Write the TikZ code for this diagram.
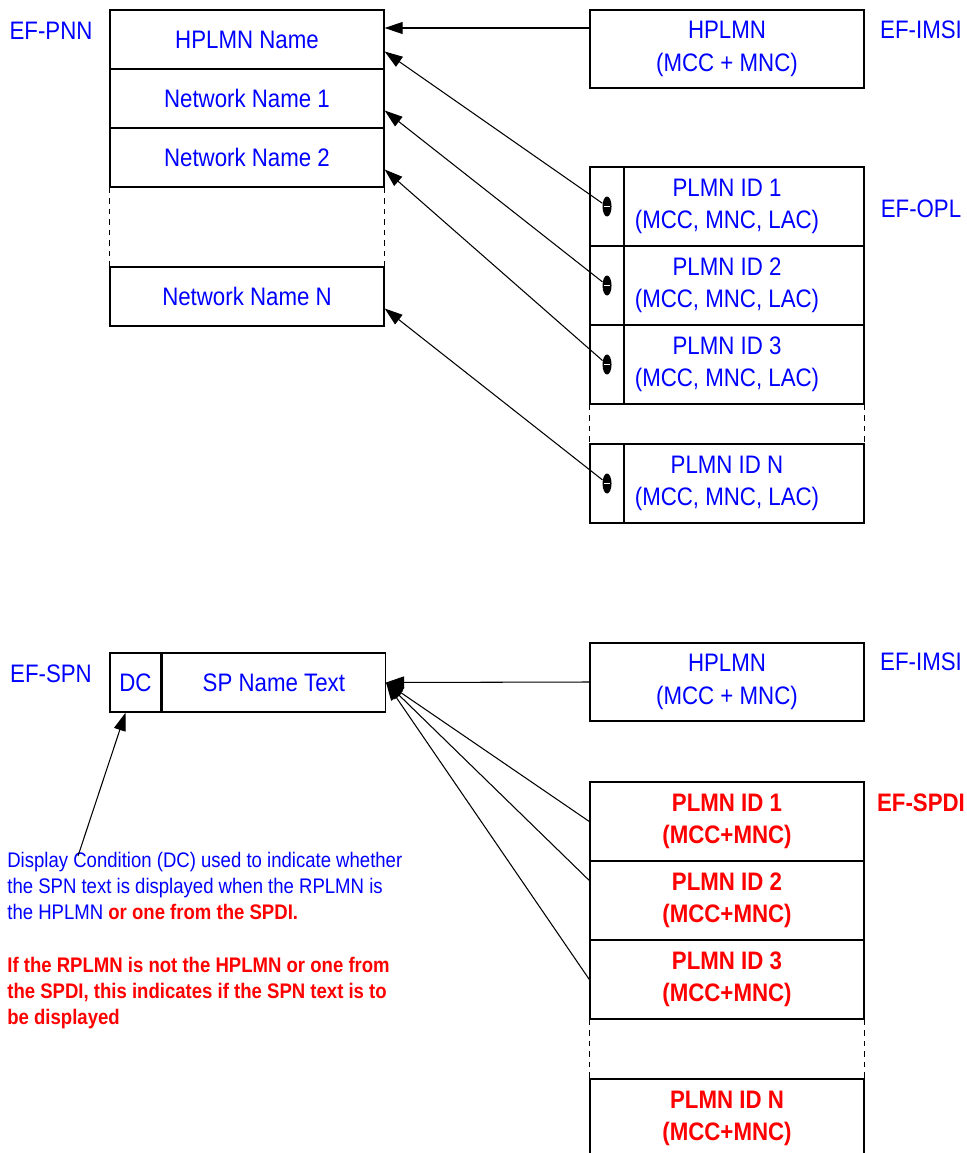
\documentclass[tikz,border=0pt]{standalone}
\usepackage{fontspec}
\setmainfont{Liberation Sans}[FakeStretch=0.88]
\usetikzlibrary{arrows.meta,shapes.geometric}
\definecolor{efblue}{RGB}{0,0,255}
\definecolor{efred}{RGB}{255,0,0}
\tikzset{
	cell/.style={draw,line width=0.8pt,minimum width=5.48cm,inner sep=0pt,align=center,
		text=efblue,font=\fontsize{14.4}{18.5}\selectfont},
	redcell/.style={cell,text=efred,font=\fontsize{14.4}{18}\selectfont\bfseries},
	eflabel/.style={text=efblue,font=\fontsize{14.4}{18}\selectfont},
	dot/.style={ellipse,fill=black,minimum width=0.18cm,minimum height=0.4cm,inner sep=0pt,
		path picture={\draw[white,line width=0.6pt] ([xshift=-1.5pt]path picture bounding box.center)--([xshift=1.5pt]path picture bounding box.center);}},
	arr/.style={-{Triangle[length=0.36cm,width=0.24cm]},line width=0.6pt}
}
\begin{document}
\begin{tikzpicture}[x=0.02cm,y=-0.02cm]
		\clip (0,0) rectangle (967,1153);
		% top: EF-PNN, EF-IMSI, EF-OPL
		\foreach \n/\y/\t in {pnn0/39.5/HPLMN Name,pnn1/98.5/Network Name 1,pnn2/157.5/Network Name 2,pnnN/296.5/Network Name N}
		\node[cell,minimum height=1.18cm] (\n) at (247,\y) {\t};
		\draw[dashed,line width=0.6pt] (pnn2.south west)--(pnnN.north west) (pnn2.south east)--(pnnN.north east);
		\node[cell,minimum height=1.56cm] (imsi) at (727,49) {HPLMN\\(MCC + MNC)};
		\foreach \i/\y in {1/206.5,2/285.5,3/364.5,N/483.5}{
			\node[cell,minimum height=1.58cm] (opl\i) at (727,\y) {PLMN ID \i\\(MCC, MNC, LAC)};
			\node[cell,minimum width=0.68cm,minimum height=1.58cm,anchor=north west] (tag\i) at (opl\i.north west) {};
			\node[dot] (dot\i) at (tag\i) {};
		}
		\draw[dashed,line width=0.6pt] (opl3.south west)--(oplN.north west) (opl3.south east)--(oplN.north east);
		\foreach \p/\x/\y in {EF-PNN/51/31,EF-IMSI/921/30,EF-OPL/921/209}
		\node[eflabel] (\p) at (\x,\y) {\p};
		\draw[arr] ([yshift=0.42cm]imsi.west) -- ([yshift=0.42cm]imsi.west -| pnn0.east);
		\foreach \a/\b in {1/0,2/1,3/2,N/N}
		\draw[arr] (dot\a) -- ([yshift=-0.24cm]pnn\b.east);
		
		% bottom: EF-SPN, EF-IMSI, EF-SPDI
		\node[cell,minimum width=1.02cm,minimum height=1.18cm] (dc) at (135.5,682.5) {DC};
		\node[cell,minimum width=4.46cm,minimum height=1.18cm,anchor=west] (spname) at (dc.east) {SP Name Text};
		\node[cell,minimum height=1.56cm] (imsiB) at (727,682) {HPLMN\\(MCC + MNC)};
		\foreach \i/\y in {1/821.5,2/900.5,3/979.5,N/1118.5}
		\node[redcell,minimum height=1.58cm] (spdi\i) at (727,\y) {PLMN ID \i\\(MCC+MNC)};
		\draw[dashed,line width=0.6pt] (spdi3.south west)--(spdiN.north west) (spdi3.south east)--(spdiN.north east);
		\node[eflabel] (efspn) at (51,674) {EF-SPN};
		\node[eflabel] (efimsiB) at (921,662) {EF-IMSI};
		\node[eflabel,text=efred,font=\fontsize{14.4}{18}\selectfont\bfseries] (efspdi) at (921,803) {EF-SPDI};
		\draw[arr] (imsiB.west) -- (spname.east);
		\draw[arr] (spdi1.west) -- (spname.east);
		\draw[arr] ([yshift=0.4cm]spdi2.west) -- (spname.east);
		\draw[arr] (spdi3.west) -- (spname.east);
		
		\node[anchor=north west,inner sep=0pt,align=left,text=efblue,font=\fontsize{12}{14.9}\selectfont] (dcnote) at (7,852)
		{Display Condition (DC) used to indicate whether\\
			the SPN text is displayed when the RPLMN is\\
			the HPLMN {\color{efred}\bfseries or one from the SPDI.}\\[14.9pt]
			{\color{efred}\bfseries If the RPLMN is not the HPLMN or one from}\\
			{\color{efred}\bfseries the SPDI, this indicates if the SPN text is to}\\
			{\color{efred}\bfseries be displayed}};
		\coordinate (dcfoot) at (78,856);
		\draw[arr] (dcfoot) -- ([xshift=-0.2cm]dc.south);
		
	\end{tikzpicture}
\end{document}
